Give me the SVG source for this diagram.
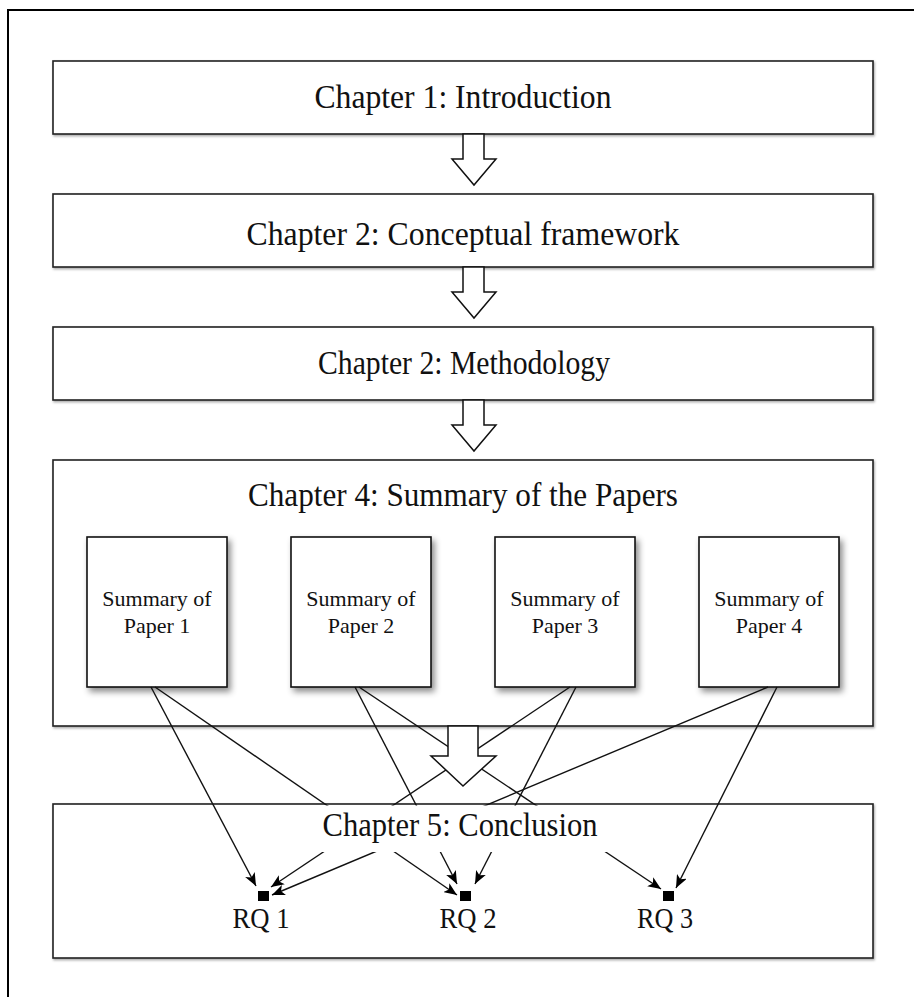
<svg xmlns="http://www.w3.org/2000/svg" width="914" height="997" viewBox="0 0 914 997">
<style>
.frame{fill:none;stroke:#000;stroke-width:2}
.box{fill:#fff;stroke:#222;stroke-width:1.6}
.paper{fill:#fff;stroke:#111;stroke-width:1.6}
.blk{fill:#fff;stroke:#111;stroke-width:1.5;stroke-linejoin:miter}
.ttl{font-family:"Liberation Serif","Times New Roman",serif;font-size:33px;fill:#111;text-anchor:middle}
.ptxt{font-family:"Liberation Serif","Times New Roman",serif;font-size:22px;fill:#111;text-anchor:middle}
.rq{font-family:"Liberation Serif","Times New Roman",serif;font-size:30px;fill:#111;text-anchor:middle}
.conn{stroke:#111;stroke-width:1.4;fill:none;marker-end:url(#ah)}
</style>
<defs>
<filter id="sh" x="-10%" y="-10%" width="130%" height="130%">
<feDropShadow dx="3" dy="4" stdDeviation="3" flood-color="#000" flood-opacity="0.45"/>
</filter>
<filter id="sh2" x="-5%" y="-5%" width="110%" height="115%">
<feDropShadow dx="1" dy="1.5" stdDeviation="0.8" flood-color="#000" flood-opacity="0.35"/>
</filter>
<marker id="ah" viewBox="0 0 12 10" refX="12" refY="5" markerWidth="13" markerHeight="11" orient="auto" markerUnits="userSpaceOnUse">
<path d="M0,0 L12,5 L0,10 L3,5 z" fill="#000"/>
</marker>
</defs>
<rect x="0" y="0" width="914" height="997" fill="#fff"/>
<path class="frame" d="M8,1000 L8,10 L920,10"/>

<g id="ch1"><rect class="box" filter="url(#sh2)" x="53" y="61" width="820" height="73"/>
<text class="ttl" x="463" y="108" textLength="297" lengthAdjust="spacingAndGlyphs">Chapter 1: Introduction</text></g>
<g id="ch2"><rect class="box" filter="url(#sh2)" x="53" y="194" width="820" height="73"/>
<text class="ttl" x="463" y="245" textLength="433" lengthAdjust="spacingAndGlyphs">Chapter 2: Conceptual framework</text></g>
<g id="ch3"><rect class="box" filter="url(#sh2)" x="53" y="327" width="820" height="73"/>
<text class="ttl" x="464" y="374" textLength="292" lengthAdjust="spacingAndGlyphs">Chapter 2: Methodology</text></g>

<g id="arrows">
<polygon class="blk" points="463,134 484,134 484,159 496,159 474,185 452,159 463,159"/>
<polygon class="blk" points="463,267 484,267 484,292 496,292 474,318 452,292 463,292"/>
<polygon class="blk" points="463,400 484,400 484,425 496,425 474,451 452,425 463,425"/>
</g>

<g id="ch4"><rect class="box" filter="url(#sh2)" x="53" y="460" width="820" height="266"/>
<text class="ttl" x="463" y="506" textLength="430" lengthAdjust="spacingAndGlyphs">Chapter 4: Summary of the Papers</text></g>

<g id="paper1"><rect class="paper" filter="url(#sh)" x="87" y="537" width="140" height="150"/>
<text class="ptxt" x="157" y="606">Summary of</text><text class="ptxt" x="157" y="633">Paper 1</text></g>
<g id="paper2"><rect class="paper" filter="url(#sh)" x="291" y="537" width="140" height="150"/>
<text class="ptxt" x="361" y="606">Summary of</text><text class="ptxt" x="361" y="633">Paper 2</text></g>
<g id="paper3"><rect class="paper" filter="url(#sh)" x="495" y="537" width="140" height="150"/>
<text class="ptxt" x="565" y="606">Summary of</text><text class="ptxt" x="565" y="633">Paper 3</text></g>
<g id="paper4"><rect class="paper" filter="url(#sh)" x="699" y="537" width="140" height="150"/>
<text class="ptxt" x="769" y="606">Summary of</text><text class="ptxt" x="769" y="633">Paper 4</text></g>

<g id="ch5"><rect class="box" filter="url(#sh2)" x="53" y="804" width="820" height="154"/></g>

<g id="connectors">
<line class="conn" x1="151" y1="687" x2="256" y2="886"/>
<line class="conn" x1="155" y1="687" x2="457" y2="895"/>
<line class="conn" x1="355" y1="687" x2="457" y2="884"/>
<line class="conn" x1="359" y1="687" x2="661" y2="889"/>
<line class="conn" x1="570" y1="687" x2="271" y2="887"/>
<line class="conn" x1="576" y1="687" x2="475" y2="884"/>
<line class="conn" x1="768" y1="687" x2="272" y2="895"/>
<line class="conn" x1="777" y1="687" x2="676" y2="888"/>
</g>

<g id="bigarrow"><polygon class="blk" points="448,726 478,726 478,756 496,756 463,786 431,756 448,756"/></g>

<g id="ch5title">
<rect x="315" y="805.5" width="293" height="46.5" fill="#fff"/>
<text class="ttl" x="460" y="836" textLength="275" lengthAdjust="spacingAndGlyphs">Chapter 5: Conclusion</text>
</g>

<g id="rq1"><rect x="258" y="891" width="11" height="10" fill="#000"/>
<text class="rq" x="261" y="928" textLength="57" lengthAdjust="spacingAndGlyphs">RQ 1</text></g>
<g id="rq2"><rect x="460" y="891" width="11" height="10" fill="#000"/>
<text class="rq" x="468" y="928" textLength="57" lengthAdjust="spacingAndGlyphs">RQ 2</text></g>
<g id="rq3"><rect x="663" y="891" width="11" height="10" fill="#000"/>
<text class="rq" x="665" y="928" textLength="56" lengthAdjust="spacingAndGlyphs">RQ 3</text></g>
</svg>
